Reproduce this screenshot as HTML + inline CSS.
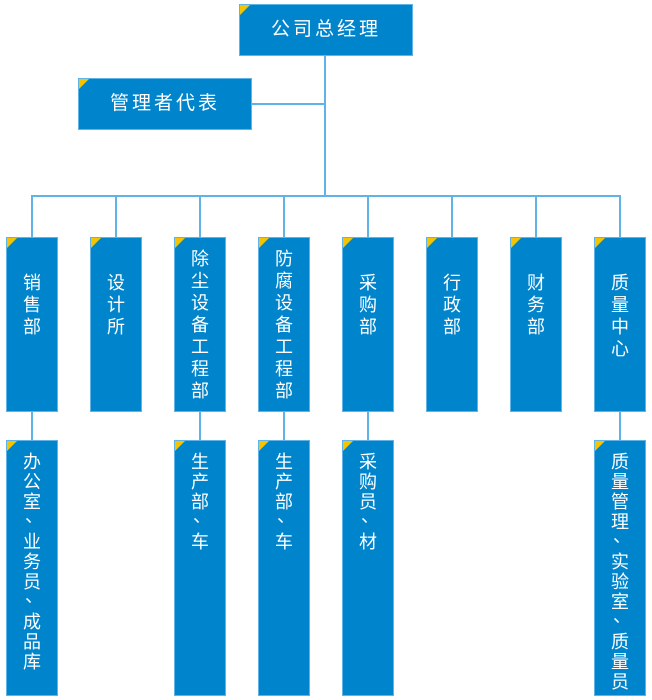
<!DOCTYPE html>
<html><head><meta charset="utf-8"><style>
body{margin:0;width:652px;height:700px;background:#fff;position:relative;overflow:hidden;font-family:"Liberation Sans","Noto Sans CJK SC",sans-serif}
.b{position:absolute;background:#0084cc;border:1px solid #5fb3e6;box-sizing:border-box;color:#fff}
.b::before{content:"";position:absolute;left:0;top:0;border-top:10px solid #f5c400;border-right:10px solid transparent}
.h{font-size:19px;letter-spacing:3px;text-align:center}
.v{width:52px;font-size:18px;text-align:center}
.v div{height:22px;line-height:22px}
.w div{height:20px;line-height:20px}
.l{position:absolute;background:#5fb3e6}
</style></head><body>
<div class="l" style="left:324px;top:55px;width:2px;height:142px"></div>
<div class="l" style="left:252px;top:103px;width:73px;height:2px"></div>
<div class="l" style="left:31px;top:195px;width:590px;height:2px"></div>
<div class="b h" style="left:239px;top:4px;width:174px;height:52px;line-height:50px">公司总经理</div>
<div class="b h" style="left:78px;top:78px;width:174px;height:52px;line-height:50px">管理者代表</div>
<div id="c"></div>
<script>
var t=["销售部","设计所","除尘设备工程部","防腐设备工程部","采购部","行政部","财务部","质量中心"];
var s={0:"办公室、业务员、成品库",2:"生产部、车",3:"生产部、车",4:"采购员、材",7:"质量管理、实验室、质量员"};
function cells(str){return str.split("").map(function(c){return c=="、"?'<div style="position:relative"><span style="position:absolute;left:18px;top:-6px">、</span></div>':"<div>"+c+"</div>"}).join("");}
var h="";
for(var i=0;i<8;i++){var x=6+i*84;var pt=t[i].length>5?10:34;
h+='<div class="l" style="left:'+(x+25)+'px;top:196px;width:2px;height:41px"></div>';
h+='<div class="b v" style="left:'+x+'px;top:237px;height:175px;padding-top:'+pt+'px">'+cells(t[i])+'</div>';
if(s[i]){h+='<div class="l" style="left:'+(x+25)+'px;top:411px;width:2px;height:30px"></div>';
h+='<div class="b v w" style="left:'+x+'px;top:440px;height:256px;padding-top:11px">'+cells(s[i])+'</div>';}}
document.getElementById("c").innerHTML=h;
</script>
</body></html>
